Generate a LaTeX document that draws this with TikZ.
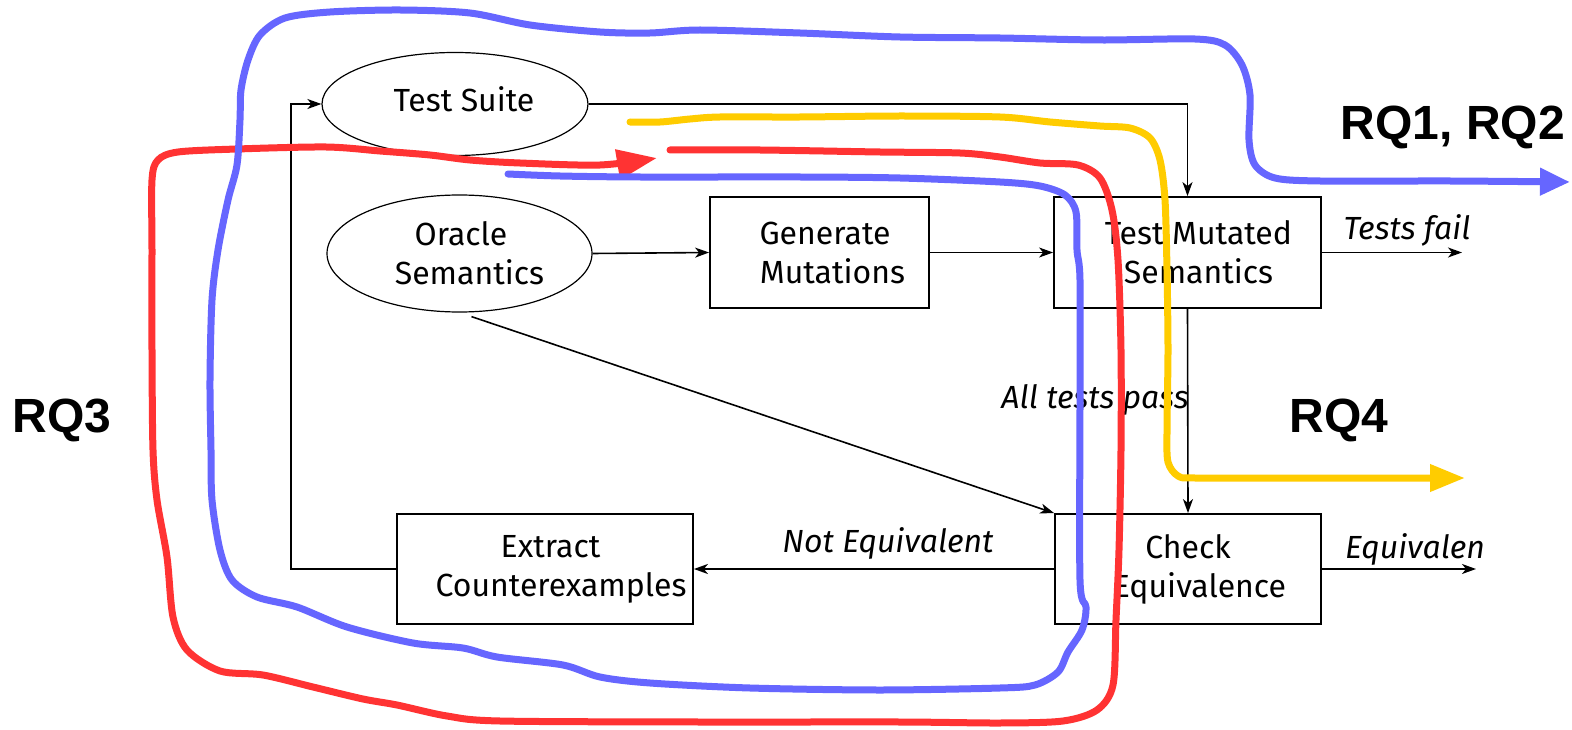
\documentclass[tikz,border=0pt]{standalone}
\usepackage{fontspec}
\setmainfont{Fira Sans}
\newfontfamily\rqfont{Liberation Sans}
\usetikzlibrary{arrows.meta,shapes.geometric}
\definecolor{penblue}{RGB}{102,102,255}
\definecolor{penred}{RGB}{255,51,51}
\definecolor{penyellow}{RGB}{255,204,0}
\newcommand{\lpad}[1]{\hspace*{#1pt}}
\begin{document}
\begin{tikzpicture}[x=1pt,y=-1pt,
  font=\fontsize{32}{39}\selectfont,
  ell/.style={ellipse,draw,line width=1.2pt,inner sep=0pt,align=center},
  stepbox/.style={rectangle,draw,line width=1.8pt,inner sep=0pt,align=center},
  arr/.style={line width=1.6pt,-{Stealth[length=14pt,width=10pt,inset=4pt]}},
  lbl/.style={font=\fontsize{32}{39}\selectfont\itshape,anchor=base,inner sep=0pt},
  rq/.style={font=\rqfont\bfseries\fontsize{48}{48}\selectfont,anchor=base,inner sep=0pt},
  pen/.style={line width=7pt,line cap=round,line join=round},
]
\useasboundingbox (0,0) rectangle (1572,730);
\fill[white] (0,0) rectangle (1572,730);

% nodes
\node[ell,minimum width=266pt,minimum height=103pt] (ts) at (455,104) {\lpad{18}Test Suite\\[-29pt]};
\node[ell,minimum width=265pt,minimum height=117pt] (os) at (459.5,253.5) {\lpad{3}Oracle\\\lpad{20}Semantics};
\node[stepbox,minimum width=219pt,minimum height=111pt] (gm) at (819.5,252.5) {\lpad{11}Generate\\\lpad{26}Mutations};
\node[stepbox,minimum width=267pt,minimum height=111pt] (tm) at (1187.5,252.5) {\lpad{22}Test Mutated\\\lpad{22}Semantics};
\node[stepbox,minimum width=266pt,minimum height=110pt] (ce) at (1188,569) {\lpad{0}Check\\\lpad{23}Equivalence};
\node[stepbox,minimum width=296pt,minimum height=110pt] (ex) at (545,569) {\lpad{11}Extract\\\lpad{32}Counterexamples};

\coordinate (tfend) at (1462,252.5);
\coordinate (eqend) at (1476,569);
\coordinate (fb) at (291,569);

% connectors
\draw[arr] (ts.east) -| (tm.north);
\draw[arr] (os.east) -- (gm.west);
\draw[arr] (gm.east) -- (tm.west);
\draw[arr] (tm.east) -- (tfend);
\draw[arr] (tm.south) -- (ce.north);
\draw[arr] ([shift={(12,4)}]os.south) -- (ce.north west);
\draw[arr] (ce.west) -- (ex.east);
\draw[arr] (ce.east) -- (eqend);
\draw[arr] (ex.west) -- (fb) |- (ts.west);

% labels
\node[lbl] (ltf) at (1407,240) {Tests fail};
\node[lbl] (lap) at (1095,408) {All tests pass};
\node[lbl] (lne) at (888,552) {Not Equivalent};
\node[lbl] (leq) at (1415,558) {Equivalen};

\node[rq] (rq12) at (1453,140) {RQ1, RQ2};
\node[rq] (rq4) at (1339,432) {RQ4};
\node[rq] (rq3) at (62,432) {RQ3};

% pen strokes
\draw[pen,penyellow,-{Triangle[length=35pt,width=26pt]}] plot[smooth,tension=0.5] coordinates {
 (630,122) (660,122) (690,119) (720,117) (800,117) (900,116) (1000,117) (1050,122)
 (1100,126) (1130,128) (1150,138) (1160,160) (1165,200) (1167,270) (1168,350)
 (1167,430) (1168,462) (1178,476) (1195,478) (1300,478) (1465,478)};

\draw[pen,penred,-{Triangle[length=40pt,width=29pt]}] plot[smooth,tension=0.5] coordinates {
 (670,150) (760,150) (880,152) (960,153) (1000,157) (1040,163) (1078,165) (1100,178)
 (1112,210) (1118,260) (1121,350) (1121,450) (1119,550) (1116,620) (1113,685)
 (1097,710) (1063,721) (1000,723) (900,722) (700,722) (500,721) (447,716) (397,705)
 (363,699) (313,687) (263,675) (220,671) (187,650) (173,617) (167,557) (157,500)
 (153,450) (152,350) (152,250) (152,180) (158,160) (178,152) (237,149) (326,147)
 (380,151) (430,155) (470,160) (520,163) (600,165) (657,158)};

\draw[pen,penblue,-{Triangle[length=30pt,width=26pt]}] plot[smooth,tension=0.5] coordinates {
 (508,174) (560,176) (640,177) (800,177) (900,178) (1000,182) (1040,186) (1065,195)
 (1076,212) (1077,250) (1080,280) (1080,400) (1080,580) (1086,607) (1082,630)
 (1068,652) (1058,672) (1035,685) (1000,688) (880,690) (750,688) (650,683) (600,677)
 (563,665) (497,657) (463,648) (413,643) (347,627) (297,607) (257,597) (232,580)
 (220,550) (212,500) (211,450) (210,380) (212,300) (218,250) (228,200) (237,165)
 (240,120) (241,90) (248,60) (260,35) (285,18) (330,12) (400,10) (470,13) (530,25)
 (600,32) (650,33) (700,30) (800,33) (900,37) (1000,38) (1100,40) (1195,39)
 (1225,45) (1242,65) (1250,95) (1249,140) (1255,165) (1275,178) (1320,181)
 (1450,181) (1570,182)};
\end{tikzpicture}
\end{document}
